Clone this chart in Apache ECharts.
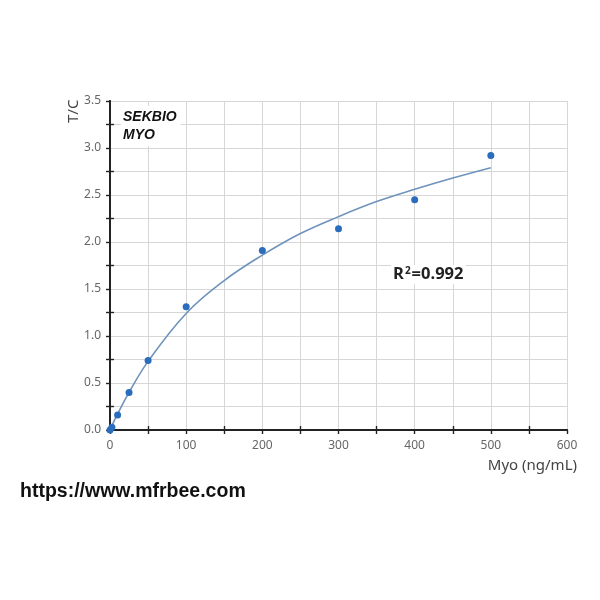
<!DOCTYPE html>
<html><head><meta charset="utf-8">
<script src="https://cdn.jsdelivr.net/npm/echarts@6/dist/echarts.min.js"></script>
<style>html,body{margin:0;padding:0;background:#fff}#c{width:600px;height:600px}</style>
</head><body><div id="c"></div>
<script>
// measured standards (x: Myo ng/mL, y: T/C)
const pointX = [0, 2.5, 10, 25, 50, 100, 200, 300, 400, 500];
const pointY = [0.0, 0.03, 0.16, 0.40, 0.74, 1.31, 1.91, 2.14, 2.45, 2.92];
// fitted curve
const curveX = [0, 5, 10, 25, 50, 100, 150, 200, 250, 300, 350, 400, 450, 500];
const curveY = [0.0, 0.09, 0.17, 0.40, 0.73, 1.24, 1.59, 1.86, 2.09, 2.27, 2.43, 2.56, 2.68, 2.79];
const xTicks = [0, 100, 200, 300, 400, 500, 600];
const yTicks = [0.0, 0.5, 1.0, 1.5, 2.0, 2.5, 3.0, 3.5];
const r2Label = ['R', '2', '=0.992'];
const titleLines = ['SEKBIO', 'MYO'];
const urlText = 'https://www.mfrbee.com';
const xName = 'Myo (ng/mL)';
const yName = 'T/C';

const chart = echarts.init(document.getElementById('c'));
const xMin = xTicks[0], xMax = xTicks[xTicks.length - 1];
const yMin = yTicks[0], yMax = yTicks[yTicks.length - 1];
const axisLine = {show: true, lineStyle: {color: '#222', width: 1.8}};
const majorTick = {show: true, inside: false, length: 4, lineStyle: {color: '#222', width: 1.4}};
const minorTick = {show: true, splitNumber: 2, length: 4, lineStyle: {color: '#222', width: 1.4}};
const gridLine = {show: true, lineStyle: {color: '#d6d6d6', width: 1}};
const label = {color: '#666', fontSize: 12, fontFamily: 'Noto Sans'};

// overlay axis with only inside minor ticks + minor grid lines
function minorAxis(pos, min, max, interval, showLine) {
  return {
    type: 'value', position: pos, min, max, interval,
    axisLine: showLine ? axisLine : {show: false},
    axisTick: {show: false, inside: true},
    minorTick, axisLabel: {show: false},
    splitLine: {show: false},
    minorSplitLine: showLine ? {show: false} : gridLine
  };
}
chart.setOption({
  animation: false,
  backgroundColor: '#fff',
  grid: {left: 110, right: 33, top: 101, bottom: 170},
  xAxis: [{
    type: 'value', position: 'bottom', min: xMin, max: xMax, interval: 100,
    axisLine, axisTick: majorTick, splitLine: gridLine,
    axisLabel: Object.assign({margin: 10, showMinLabel: true, showMaxLabel: true}, label)
  },
    minorAxis('bottom', xMin, xMax, 100, false),
    minorAxis('top', xMin, xMax, 100, true)
  ],
  yAxis: [{
    type: 'value', position: 'left', min: yMin, max: yMax, interval: 0.5,
    axisLine, axisTick: majorTick, splitLine: gridLine,
    axisLabel: Object.assign({margin: 9, formatter: v => v.toFixed(1), showMinLabel: true, showMaxLabel: true}, label)
  },
    minorAxis('left', yMin, yMax, 0.5, false),
    minorAxis('right', yMin, yMax, 0.5, true)
  ],
  series: [{
    type: 'line', smooth: 0.4, showSymbol: false, z: 2,
    lineStyle: {color: '#6f93bb', width: 1.6},
    data: curveX.map((x, i) => [x, curveY[i]])
  }, {
    type: 'scatter', symbolSize: 7, z: 3,
    itemStyle: {color: '#2a6dbd', opacity: 1},
    data: pointX.map((x, i) => [x, pointY[i]])
  }],
  graphic: [
    {type: 'text', x: 66, y: 123, rotation: Math.PI / 2, z: 100,
     style: {text: yName, fill: '#444', fontSize: 15, fontFamily: 'Noto Sans', textVerticalAlign: 'top'}},
    {type: 'text', x: 121, y: 106, z: 100,
     style: {text: titleLines[0] + '\n' + titleLines[1], lineHeight: 18, fill: '#111', fontSize: 14, fontWeight: 'bold', fontStyle: 'italic', fontFamily: 'Liberation Sans',
       backgroundColor: '#fff', padding: [2, 4, 2, 2]}},
    {type: 'text', x: 391, y: 265, z: 100,
     style: {text: '{a|' + r2Label[0] + '}{s|' + r2Label[1] + '}{a|' + r2Label[2] + '}',
       backgroundColor: '#fff', padding: [1, 2, 1, 2],
       rich: {
         a: {fontSize: 16.5, fontWeight: 'bold', fontFamily: 'Open Sans', fill: '#222', color: '#222'},
         s: {fontSize: 10, fontWeight: 'bold', fontFamily: 'Open Sans', fill: '#222', color: '#222', verticalAlign: 'top', padding: [0, 1, 7, 1]}
       }}},
    {type: 'text', x: 577, y: 458, z: 100,
     style: {text: xName, fill: '#444', fontSize: 15, fontFamily: 'Noto Sans', align: 'right'}},
    {type: 'text', x: 20, y: 482, z: 100,
     style: {text: urlText, fill: '#111', fontSize: 19.5, fontWeight: 'bold', fontFamily: 'Liberation Sans'}}
  ]
});
</script></body></html>
